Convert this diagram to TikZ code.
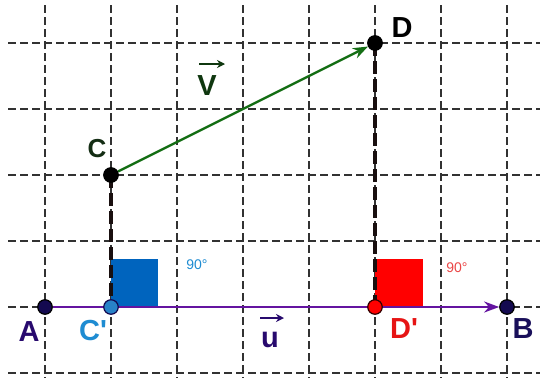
\documentclass[tikz,border=0pt]{standalone}
\usepackage{fontspec}
\setmainfont{Liberation Sans}
\usetikzlibrary{arrows.meta,calc}
\definecolor{gridcol}{RGB}{50,50,50}
\definecolor{purpline}{RGB}{100,20,160}
\definecolor{navypt}{RGB}{20,10,80}
\definecolor{labA}{RGB}{40,10,110}
\definecolor{labB}{RGB}{25,15,90}
\definecolor{greenline}{RGB}{20,110,20}
\definecolor{labV}{RGB}{15,55,15}
\definecolor{labC}{RGB}{20,45,20}
\definecolor{sqblue}{RGB}{0,100,190}
\definecolor{labblue}{RGB}{30,140,210}
\definecolor{ptblue}{RGB}{40,130,200}
\definecolor{sqred}{RGB}{255,0,0}
\definecolor{labred}{RGB}{230,20,20}
\definecolor{labred2}{RGB}{235,70,70}
\definecolor{projcol}{RGB}{25,15,15}
\pgfdeclarelayer{gridlayer}
\pgfdeclarelayer{linelayer}
\pgfsetlayers{gridlayer,linelayer,main}
\tikzset{
  gridline/.style={draw=gridcol,line width=2pt,dash pattern=on 7.5pt off 4.5pt},
  projline/.style={draw=projcol,line width=4pt,dash pattern=on 13pt off 5pt},
  ptnode/.style={circle,inner sep=0pt,minimum size=14.5pt,draw=black,line width=1.2pt},
  biglab/.style={font=\bfseries\fontsize{29}{29}\selectfont,inner sep=0pt},
  anglab/.style={font=\fontsize{14}{14}\selectfont,inner sep=0pt},
  vecarrow/.style={line width=2pt,-{Stealth[length=8pt,width=8pt]}}
}
\begin{document}
\begin{tikzpicture}[x=1pt,y=-1pt]
\useasboundingbox (0,0) rectangle (540,378);
\begin{pgfonlayer}{gridlayer}
\fill[white] (0,0) rectangle (540,378);
\foreach \x in {45,111,177,243,309,375,441,507}
  \draw[gridline] (\x,5) -- (\x,378);
\foreach \y in {43,109,175,241,307,373}
  \draw[gridline] (8,\y) -- (540,\y);
\fill[sqblue] (111,307) rectangle (158,259);
\fill[sqred] (375,307) rectangle (423,259);
\end{pgfonlayer}
% points
\node[ptnode,fill=navypt] (A) at (45,307) {};
\node[ptnode,fill=navypt] (B) at (507,307) {};
\node[ptnode,fill=black] (C) at (111,175) {};
\node[ptnode,fill=black] (D) at (375,43) {};
\node[ptnode,fill=ptblue,draw=navypt] (Cp) at (111,307) {};
\node[ptnode,fill=sqred,draw=black!80!red] (Dp) at (375,307) {};
% connectors
\begin{pgfonlayer}{linelayer}
\draw[projline] (C.center) -- (Cp.center);
\draw[projline] (D.center) -- (Dp.center);
\draw[purpline,line width=2.4pt,-{Stealth[length=15pt,width=11pt]}] (A) -- (B);
\draw[greenline,line width=2.4pt,-{Stealth[length=15pt,width=11pt]}] (C) -- (D);
\end{pgfonlayer}
% labels
\node[biglab,text=labA] (lA) at (29,332) {A};
\node[biglab,text=labB] (lB) at (523,329) {B};
\node[biglab,text=labC,font=\bfseries\fontsize{26}{26}\selectfont] (lC) at (97,149) {C};
\node[biglab,text=black] (lD) at (402,28) {D};
\node[biglab,text=labblue] (lCp) at (93,331) {C\textquotesingle};
\node[biglab,text=labred] (lDp) at (404,329) {D\textquotesingle};
\node[biglab,text=labV] (lV) at (207,86) {V};
\node[biglab,text=labA] (lu) at (270,340) {u};
\draw[vecarrow,labV] ($(lV.center)+(-8,-22)$) -- ++(26,0);
\draw[vecarrow,labA] ($(lu.center)+(-10,-22)$) -- ++(24,0);
\node[anglab,text=labblue] (a1) at (197,265) {90°};
\node[anglab,text=labred2] (a2) at (457,268) {90°};
\end{tikzpicture}
\end{document}
